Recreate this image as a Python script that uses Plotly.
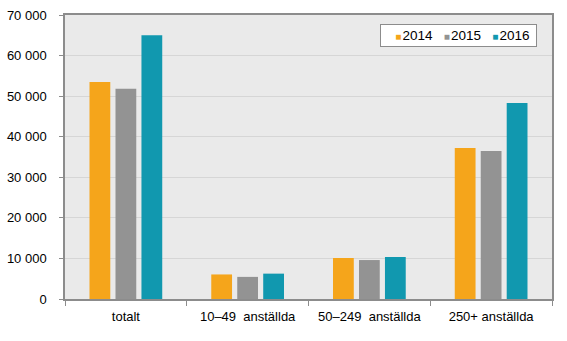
import plotly.graph_objects as go

categories = ["totalt", "10–49  anställda", "50–249  anställda", "250+ anställda"]
years = ["2014", "2015", "2016"]
values_2014 = [53500, 6050, 10100, 37200]
values_2015 = [51800, 5450, 9600, 36500]
values_2016 = [65000, 6250, 10350, 48300]
colors = ["#F5A51B", "#939393", "#1198AF"]

fig = go.Figure()
for name, vals, c in zip(years, [values_2014, values_2015, values_2016], colors):
    fig.add_trace(go.Bar(x=categories, y=vals, name=name, showlegend=False,
                         marker=dict(color=c, line=dict(width=0))))

legend_text = "&nbsp;&nbsp;&nbsp;" + "&nbsp;&nbsp;&nbsp;".join(
    f"<span style='color:{c};font-size:10px'>■</span>&#8202;{y}" for y, c in zip(years, colors)
) + "&nbsp;"
fig.add_annotation(xref="paper", yref="paper", x=0.9695, y=0.968, xanchor="right", yanchor="top",
                   text=legend_text, showarrow=False, bgcolor="white",
                   bordercolor="#8c8c8c", borderwidth=1, borderpad=3,
                   font=dict(family="Liberation Sans, Arial, sans-serif", size=13.5, color="#000"))

font = dict(family="Liberation Sans, Arial, sans-serif", size=13, color="#000")
fig.update_layout(
    width=567, height=341,
    margin=dict(l=65, r=15, t=15, b=42, autoexpand=False),
    paper_bgcolor="white", plot_bgcolor="#EAEAEA",
    barmode="group", bargap=0.36, bargroupgap=0.2,
    separators=". ",
    font=font,
)
fig.update_xaxes(showline=True, linecolor="#8c8c8c", linewidth=1.5, mirror=True,
                 ticks="outside", tickson="boundaries", ticklen=5, tickcolor="#8c8c8c",
                 showgrid=False, ticklabelstandoff=5, automargin=False)
fig.update_yaxes(range=[0, 70000], dtick=10000, tickformat=",d",
                 showline=True, linecolor="#8c8c8c", linewidth=1.5, mirror=True,
                 ticks="outside", ticklen=4, tickcolor="#8c8c8c", automargin=False,
                 gridcolor="#D6D6D6", gridwidth=1, zeroline=False, ticklabelstandoff=10)
fig.write_html("out.html")
